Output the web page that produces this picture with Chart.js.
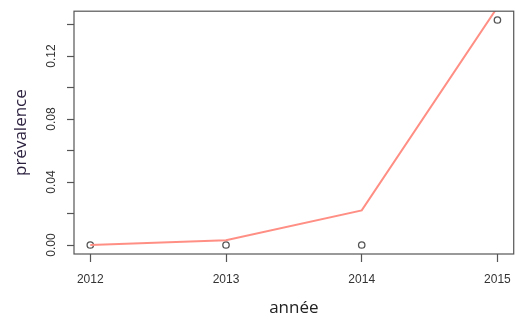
<!DOCTYPE html>
<html>
<head>
<meta charset="utf-8">
<script src="https://cdn.jsdelivr.net/npm/chart.js@4/dist/chart.umd.min.js"></script>
<style>
  html, body { margin: 0; padding: 0; background: #fff; }
  #wrap { width: 521px; height: 320px; }
</style>
</head>
<body>
<div id="wrap"><canvas id="prevChart"></canvas></div>
<script>
// années et prévalences
const years = [2012, 2013, 2014, 2015];
const observed = [0, 0, 0, 0.1429];
const fitted = [0, 0.003, 0.022, 0.151];
const xTicks = [2012, 2013, 2014, 2015];
const yTicks = [0, 0.02, 0.04, 0.06, 0.08, 0.10, 0.12, 0.14];
const yLabels = [0, 0.04, 0.08, 0.12];

const axisColor = '#555555';
const tickFont = { family: 'Liberation Sans, Arial, sans-serif', size: 12 };
const titleFont = { family: 'Open Sans, Noto Sans, sans-serif', size: 17 };

// box round the plot region, like R's box()
const boxPlugin = {
  id: 'box',
  afterDraw(chart) {
    const a = chart.chartArea;
    const ctx = chart.ctx;
    ctx.save();
    ctx.strokeStyle = axisColor;
    ctx.lineWidth = 1.2;
    ctx.strokeRect(a.left, a.top, a.right - a.left, a.bottom - a.top);
    ctx.restore();
  }
};

const prevChart = new Chart(document.getElementById('prevChart'), {
  type: 'scatter',
  data: {
    datasets: [{
      type: 'line',
      label: 'ajusté',
      data: years.map((y, i) => ({ x: y, y: fitted[i] })),
      borderColor: '#ff8f85',
      borderWidth: 2,
      pointRadius: 0,
      fill: false,
      tension: 0
    }, {
      label: 'observé',
      data: years.map((y, i) => ({ x: y, y: observed[i] })),
      backgroundColor: 'rgba(0,0,0,0)',
      borderColor: '#555555',
      borderWidth: 1.3,
      pointRadius: 3.2,
      pointStyle: 'circle'
    }]
  },
  options: {
    responsive: true,
    maintainAspectRatio: false,
    animation: false,
    layout: { padding: { left: 0, right: 6, top: 11, bottom: 0 } },
    plugins: {
      legend: { display: false },
      tooltip: { enabled: false }
    },
    scales: {
      x: {
        type: 'linear',
        min: 2011.88,
        max: 2015.12,
        afterBuildTicks: scale => { scale.ticks = xTicks.map(v => ({ value: v })); },
        afterFit: scale => { scale.height = 66; },
        grid: { drawOnChartArea: false, drawTicks: true, tickLength: 8, color: axisColor, tickWidth: 1.2 },
        border: { display: false },
        ticks: {
          color: '#333333',
          font: tickFont,
          padding: 10,
          maxRotation: 0,
          callback: v => String(v)
        },
        title: { display: true, text: 'année', color: '#222222', font: titleFont, padding: { top: 4, bottom: 2 } }
      },
      y: {
        min: -0.0057,
        max: 0.1485,
        afterBuildTicks: scale => { scale.ticks = yTicks.map(v => ({ value: v })); },
        afterFit: scale => { scale.width = 74; },
        grid: { drawOnChartArea: false, drawTicks: true, tickLength: 7, color: axisColor, tickWidth: 1.2 },
        border: { display: false },
        ticks: {
          color: '#333333',
          font: tickFont,
          padding: 4,
          minRotation: 90,
          maxRotation: 90,
          crossAlign: 'center',
          callback: v => yLabels.some(l => Math.abs(l - v) < 1e-9) ? v.toFixed(2) : ''
        },
        title: { display: true, text: 'prévalence', color: '#2a1f3d', font: titleFont, padding: { top: 11, bottom: 4 } }
      }
    }
  },
  plugins: [boxPlugin]
});
</script>
</body>
</html>
